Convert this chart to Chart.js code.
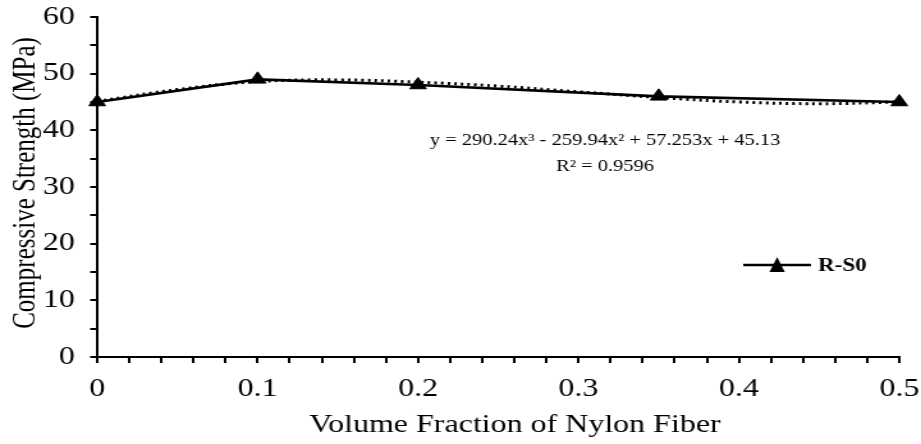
<!DOCTYPE html>
<html>
<head>
<meta charset="utf-8">
<script src="https://cdn.jsdelivr.net/npm/chart.js@4.4.0/dist/chart.umd.min.js"></script>
<style>
  html, body { margin: 0; padding: 0; background: #fff; overflow: hidden; }
  /* the source picture is stretched sideways, so the chart box is too */
  #wrap { width: 720px; height: 444px; transform: scale(1.2792, 1); transform-origin: 0 0; }
</style>
</head>
<body>
<div id="wrap"><canvas id="chart1"></canvas></div>
<script>
// measured values
var fraction = [0, 0.1, 0.2, 0.35, 0.5];
var strength = [45, 49, 48, 46, 45];
// dotted trend line
var trendX = [0, 0.05, 0.1, 0.15, 0.2, 0.25, 0.3, 0.35, 0.4, 0.45, 0.5];
var trendY = [45.1, 47.2, 48.6, 48.9, 48.5, 47.8, 46.8, 45.8, 45.0, 44.7, 45.0];
var xTicks = [0, 0.1, 0.2, 0.3, 0.4, 0.5];
var yTicks = [0, 10, 20, 30, 40, 50, 60];
var seriesName = "R-S0";
var xTitle = "Volume Fraction of Nylon Fiber";
var yTitle = "Compressive Strength (MPa)";
var eqText = "y = 290.24x\u00B3 - 259.94x\u00B2 + 57.253x + 45.13";
var r2Text = "R\u00B2 = 0.9596";

var serif = "'Liberation Serif', 'Times New Roman', serif";

function toXY(xs, ys) {
  return xs.map(function (x, i) { return { x: x, y: ys[i] }; });
}

// titles, legend and equation (canvas units, before the sideways stretch)
var extras = {
  id: 'extras',
  afterDraw: function (chart) {
    var c = chart.ctx;
    c.save();
    c.fillStyle = '#000';
    c.textAlign = 'center';
    c.textBaseline = 'middle';
    // axis titles
    c.font = '25px ' + serif;
    c.fillText(xTitle, 402.5, 425);
    c.save();
    c.translate(20.5, 183);
    c.rotate(-Math.PI / 2);
    c.fillText(yTitle, 0, 0);
    c.restore();
    // trend equation
    c.font = '16px ' + serif;
    c.fillText(eqText, 473, 141);
    c.fillText(r2Text, 473, 167);
    // legend
    c.strokeStyle = '#000';
    c.lineWidth = 2.5;
    c.beginPath();
    c.moveTo(581, 265);
    c.lineTo(634, 265);
    c.stroke();
    c.beginPath();
    c.moveTo(607.5, 257);
    c.lineTo(613.5, 272);
    c.lineTo(601.5, 272);
    c.closePath();
    c.fill();
    c.font = 'bold 18px ' + serif;
    c.textAlign = 'left';
    c.fillText(seriesName, 639.5, 266);
    c.restore();
  }
};

var ctx = document.getElementById("chart1");
var myChart = new Chart(ctx, {
  type: 'scatter',
  data: {
    datasets: [
      {
        label: seriesName,
        data: toXY(fraction, strength),
        showLine: true,
        borderColor: '#000',
        backgroundColor: '#000',
        borderWidth: 2.7,
        pointStyle: 'triangle',
        pointRadius: 7.5,
        pointHoverRadius: 7.5,
        pointBorderWidth: 1,
        clip: false,
        order: 0
      },
      {
        label: 'trend',
        data: toXY(trendX, trendY),
        showLine: true,
        borderColor: '#000',
        borderWidth: 3,
        borderDash: [2, 3.2],
        pointRadius: 0,
        tension: 0.4,
        clip: false,
        order: 1
      }
    ]
  },
  plugins: [extras],
  options: {
    responsive: true,
    maintainAspectRatio: false,
    devicePixelRatio: 1,
    animation: false,
    layout: { padding: { top: 17, right: 17, left: 0, bottom: 0 } },
    plugins: {
      legend: { display: false },
      tooltip: { enabled: false }
    },
    scales: {
      x: {
        type: 'linear',
        min: 0,
        max: 0.5,
        afterFit: function (s) { s.height = 87; s.paddingLeft = 0; s.paddingRight = 0; },
        border: { display: true, color: '#000', width: 2 },
        grid: { drawOnChartArea: false, color: '#000', lineWidth: 2, tickLength: 6 },
        ticks: {
          stepSize: 0.02,
          autoSkip: false,
          maxRotation: 0,
          color: '#000',
          padding: 11,
          font: { family: serif, size: 25 },
          callback: function (v) {
            var k = xTicks.find(function (t) { return Math.abs(t - v) < 1e-6; });
            return k === undefined ? '' : String(k);
          }
        }
      },
      y: {
        min: 0,
        max: 60,
        afterFit: function (s) { s.width = 76; s.paddingTop = 0; s.paddingBottom = 0; },
        border: { display: true, color: '#000', width: 2 },
        grid: { drawOnChartArea: false, color: '#000', lineWidth: 2, tickLength: 5.5 },
        ticks: {
          stepSize: 5,
          autoSkip: false,
          color: '#000',
          padding: 12,
          font: { family: serif, size: 25 },
          callback: function (v) {
            return yTicks.indexOf(v) >= 0 ? String(v) : '';
          }
        }
      }
    }
  }
});
</script>
</body>
</html>
